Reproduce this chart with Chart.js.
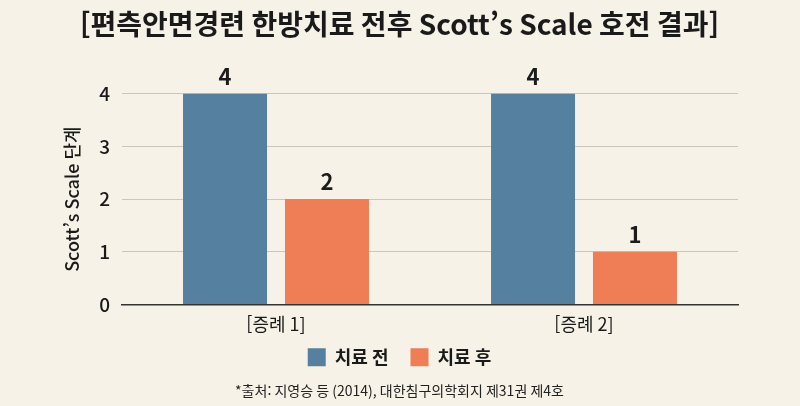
<!DOCTYPE html>
<html lang="ko">
<head>
<meta charset="utf-8">
<title>편측안면경련 한방치료 전후 Scott's Scale 호전 결과</title>
<script src="https://cdn.jsdelivr.net/npm/chart.js@4.4.1/dist/chart.umd.min.js"></script>
<style>
  html, body { margin: 0; padding: 0; background: #f6f2e8; }
  #chartBox { width: 800px; height: 406px; position: relative; }
</style>
</head>
<body>
<div id="chartBox"><canvas id="scottChart"></canvas></div>
<script>
// 데이터
const caseLabels = ['[증례 1]', '[증례 2]'];
const beforeValues = [4, 4];   // 치료 전
const afterValues = [2, 1];    // 치료 후
const yTicks = [0, 1, 2, 3, 4];

const FONT = "'Noto Sans CJK KR', 'Noto Sans', sans-serif";
const BLUE = '#55809f';
const ORANGE = '#ef7d55';
const LEGEND_TRIM = 18; // 범례 위쪽 여백을 줄이는 양 (항목 사이 간격은 그대로)

// 막대 위 숫자 표시용 플러그인
const barValueLabels = {
    id: 'barValueLabels',
    afterDatasetsDraw(chart) {
        const ctx = chart.ctx;
        ctx.save();
        ctx.font = 'bold 22px ' + FONT;
        ctx.fillStyle = '#1c1c1c';
        ctx.textAlign = 'center';
        ctx.textBaseline = 'bottom';
        chart.data.datasets.forEach((ds, i) => {
            const meta = chart.getDatasetMeta(i);
            meta.data.forEach((bar, j) => {
                ctx.fillText(String(ds.data[j]), bar.x, bar.y - 6);
            });
        });
        ctx.restore();
    }
};

// 범례 padding 은 위쪽 여백과 항목 간격을 같이 정하므로 위쪽만 조금 당긴다
const legendSpacing = {
    id: 'legendSpacing',
    afterInit(chart) {
        const lg = chart.legend;
        if (!lg) return;
        const fit = lg.fit.bind(lg);
        const draw = lg.draw.bind(lg);
        lg.fit = function () { fit(); this.height -= LEGEND_TRIM; };
        lg.draw = function () {
            this.top -= LEGEND_TRIM;
            draw();
            this.top += LEGEND_TRIM;
        };
    }
};

const config = {
    type: 'bar',
    data: {
        labels: caseLabels,
        datasets: [
            { label: '치료 전', data: beforeValues, backgroundColor: BLUE },
            { label: '치료 후', data: afterValues, backgroundColor: ORANGE }
        ]
    },
    options: {
        responsive: true,
        maintainAspectRatio: false,
        animation: false,
        categoryPercentage: 0.662,
        barPercentage: 0.824,
        layout: { padding: { left: 61, right: 62, top: 8, bottom: 7 } },
        plugins: {
            title: {
                display: true,
                text: "[편측안면경련 한방치료 전후 Scott’s Scale 호전 결과]",
                color: '#1a1a1a',
                font: { family: FONT, size: 28, weight: 'bold' },
                padding: { top: 0, bottom: 52 }
            },
            legend: {
                position: 'bottom',
                labels: {
                    color: '#1a1a1a',
                    boxWidth: 18,
                    boxHeight: 18,
                    padding: 22,
                    font: { family: FONT, size: 18, weight: 'bold' }
                }
            },
            subtitle: {
                display: true,
                position: 'bottom',
                text: '*출처: 지영승 등 (2014), 대한침구의학회지 제31권 제4호',
                color: '#222',
                font: { family: FONT, size: 14 },
                padding: { top: 6, bottom: 0 }
            },
            tooltip: { enabled: false }
        },
        scales: {
            x: {
                grid: { display: false, drawTicks: false },
                border: { display: true, color: '#333', width: 1.5 },
                ticks: { color: '#1a1a1a', font: { family: FONT, size: 18 }, padding: 9 }
            },
            y: {
                min: 0,
                max: 4,
                afterBuildTicks: axis => { axis.ticks = yTicks.map(v => ({ value: v })); },
                afterFit: scale => { scale.width = 61; },
                grid: { color: '#cbc6bb', lineWidth: 1, drawTicks: false },
                border: { display: false },
                ticks: { color: '#1a1a1a', font: { family: FONT, size: 19, weight: 500 }, padding: 12 },
                title: {
                    display: true,
                    text: "Scott’s Scale 단계",
                    color: '#1a1a1a',
                    font: { family: FONT, size: 18, weight: 500 },
                    padding: { top: 0, bottom: 6 }
                }
            }
        }
    },
    plugins: [barValueLabels, legendSpacing]
};

// 차트 그리기
const canvas = document.getElementById('scottChart');
const scottChart = new Chart(canvas, config);
console.log('chart area', JSON.stringify(scottChart.chartArea));
</script>
</body>
</html>
